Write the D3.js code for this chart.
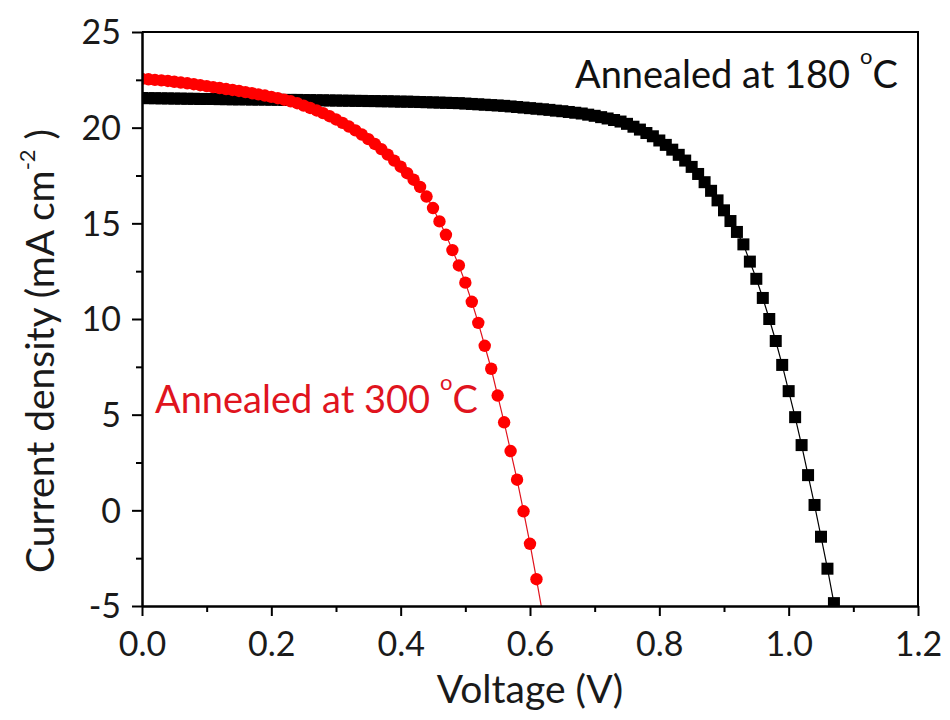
<!DOCTYPE html>
<html><head><meta charset="utf-8">
<script src="https://cdn.jsdelivr.net/npm/d3@7"></script>
<style>body{margin:0;background:#fff}</style>
</head><body><svg id="c" width="950" height="720"></svg>
<script>
const voltage = [
 0.00,0.01,0.02,0.03,0.04,0.05,0.06,0.07,0.08,0.09,
 0.10,0.11,0.12,0.13,0.14,0.15,0.16,0.17,0.18,0.19,
 0.20,0.21,0.22,0.23,0.24,0.25,0.26,0.27,0.28,0.29,
 0.30,0.31,0.32,0.33,0.34,0.35,0.36,0.37,0.38,0.39,
 0.40,0.41,0.42,0.43,0.44,0.45,0.46,0.47,0.48,0.49,
 0.50,0.51,0.52,0.53,0.54,0.55,0.56,0.57,0.58,0.59,
 0.60,0.61,0.62,0.63,0.64,0.65,0.66,0.67,0.68,0.69,
 0.70,0.71,0.72,0.73,0.74,0.75,0.76,0.77,0.78,0.79,
 0.80,0.81,0.82,0.83,0.84,0.85,0.86,0.87,0.88,0.89,
 0.90,0.91,0.92,0.93,0.94,0.95,0.96,0.97,0.98,0.99,
 1.00,1.01,1.02,1.03,1.04,1.05,1.06,1.07];
const current180 = [
 21.55,21.54,21.54,21.53,21.53,21.52,21.52,21.51,21.51,21.50,
 21.50,21.50,21.49,21.49,21.48,21.48,21.48,21.47,21.47,21.47,
 21.46,21.46,21.45,21.45,21.45,21.44,21.44,21.43,21.43,21.42,
 21.42,21.41,21.41,21.40,21.40,21.39,21.39,21.38,21.38,21.37,
 21.36,21.36,21.35,21.34,21.33,21.32,21.31,21.30,21.29,21.28,
 21.26,21.24,21.22,21.20,21.18,21.16,21.14,21.11,21.08,21.05,
 21.02,20.99,20.96,20.93,20.89,20.86,20.82,20.78,20.74,20.68,
 20.62,20.55,20.48,20.40,20.32,20.20,20.05,19.90,19.72,19.55,
 19.33,19.10,18.85,18.58,18.28,17.95,17.58,17.15,16.70,16.20,
 15.68,15.12,14.55,13.90,13.00,12.10,11.10,10.00,8.85,7.60,
 6.23,4.87,3.41,1.84,0.28,-1.38,-3.05,-4.85];
const current300 = [
 22.55,22.53,22.50,22.47,22.44,22.40,22.36,22.32,22.27,22.22,
 22.17,22.12,22.07,22.02,21.97,21.92,21.86,21.80,21.74,21.68,
 21.61,21.54,21.46,21.38,21.28,21.15,21.03,20.90,20.76,20.60,
 20.43,20.25,20.06,19.86,19.64,19.40,19.15,18.88,18.59,18.28,
 17.96,17.62,17.28,16.90,16.40,15.80,15.10,14.40,13.60,12.80,
 11.90,10.90,9.80,8.60,7.40,6.00,4.60,3.10,1.60,-0.05,
 -1.75,-3.60,-5.50];
const xTicks = [0,0.2,0.4,0.6,0.8,1.0,1.2];
const xMinor = [0.1,0.3,0.5,0.7,0.9,1.1];
const yTicks = [-5,0,5,10,15,20,25];
const yMinor = [-2.5,2.5,7.5,12.5,17.5,22.5];
const xTickLabels = ["0.0","0.2","0.4","0.6","0.8","1.0","1.2"];
const yTickLabels = ["-5","0","5","10","15","20","25"];
const labels = {s180:"Annealed at 180 ", s300:"Annealed at 300 "};

const svg = d3.select("#c");
const L=142, R=918, T=32, B=606;
const FONT = "Lato, 'Open Sans', sans-serif";
const x = d3.scaleLinear().domain([0,1.2]).range([L,R]);
const y = d3.scaleLinear().domain([-5,25]).range([B,T]);

svg.append("defs").append("clipPath").attr("id","clip")
  .append("rect").attr("x",L).attr("y",T).attr("width",R-L).attr("height",B-T);

const d180 = current180.map((c,i)=>({v:voltage[i], j:c}));
const d300 = current300.map((c,i)=>({v:voltage[i], j:c}));
const line = d3.line().x(d=>x(d.v)).y(d=>y(d.j));
const plot = svg.append("g").attr("clip-path","url(#clip)");

plot.append("path").datum(d180).attr("d",line).attr("fill","none").attr("stroke","#000").attr("stroke-width",1.2);
plot.selectAll(".sq").data(d180).enter().append("rect")
  .attr("x",d=>x(d.v)-6).attr("y",d=>y(d.j)-6).attr("width",12).attr("height",12).attr("fill","#000");
plot.append("path").datum(d300).attr("d",line).attr("fill","none").attr("stroke","#e0141e").attr("stroke-width",1.2);
plot.selectAll(".ci").data(d300).enter().append("circle")
  .attr("cx",d=>x(d.v)).attr("cy",d=>y(d.j)).attr("r",6.2).attr("fill","#ff0000");

// axes
const xAxis = svg.append("g").attr("transform",`translate(0,${B})`)
  .call(d3.axisBottom(x).tickValues(xTicks).tickSize(10).tickSizeOuter(0).tickFormat((d,i)=>xTickLabels[i]));
const xAxisMinor = svg.append("g").attr("transform",`translate(0,${B})`)
  .call(d3.axisBottom(x).tickValues(xMinor).tickSize(6).tickSizeOuter(0).tickFormat(""));
const yAxis = svg.append("g").attr("transform",`translate(${L},0)`)
  .call(d3.axisLeft(y).tickValues(yTicks).tickSize(10).tickSizeOuter(0).tickFormat((d,i)=>yTickLabels[i]));
const yAxisMinor = svg.append("g").attr("transform",`translate(${L},0)`)
  .call(d3.axisLeft(y).tickValues(yMinor).tickSize(6).tickSizeOuter(0).tickFormat(""));
[xAxis,xAxisMinor,yAxis,yAxisMinor].forEach(g=>{
  g.select(".domain").attr("stroke","#000").attr("stroke-width",2);
  g.selectAll(".tick line").attr("stroke","#000").attr("stroke-width",2);
  g.selectAll("text").attr("font-family",FONT).attr("font-size",34).attr("fill","#1a1a1a");
});
xAxis.selectAll("text").attr("dy",0).attr("y",50);
yAxis.selectAll("text").attr("x",-21).attr("dy","0.35em");
// box
svg.append("line").attr("x1",L).attr("x2",R+1).attr("y1",T).attr("y2",T).attr("stroke","#000").attr("stroke-width",2);
svg.append("line").attr("x1",R).attr("x2",R).attr("y1",T).attr("y2",B+1).attr("stroke","#000").attr("stroke-width",2);

// titles
svg.append("text").attr("x",(L+R)/2).attr("y",703).attr("text-anchor","middle")
  .attr("font-family",FONT).attr("font-size",39).attr("fill","#1a1a1a").text("Voltage (V)");
const yt = svg.append("text").attr("transform","translate(54,351) rotate(-90)").attr("text-anchor","middle")
  .attr("font-family",FONT).attr("font-size",39).attr("fill","#1a1a1a");
yt.append("tspan").text("Current density (mA cm");
yt.append("tspan").attr("dy",-19).attr("font-size",22).text("-2");
yt.append("tspan").attr("dy",19).text(" )");

// annotations
const a1 = svg.append("text").attr("x",575).attr("y",88).attr("font-family",FONT).attr("font-size",38).attr("fill","#111");
a1.append("tspan").text(labels.s180);
a1.append("tspan").attr("dy",-24).attr("font-size",22).text("o");
a1.append("tspan").attr("dy",24).text("C");
const a2 = svg.append("text").attr("x",155).attr("y",413).attr("font-family",FONT).attr("font-size",38).attr("fill","#e0141e");
a2.append("tspan").text(labels.s300);
a2.append("tspan").attr("dy",-23).attr("font-size",22).text("o");
a2.append("tspan").attr("dy",23).text("C");
</script></body></html>
